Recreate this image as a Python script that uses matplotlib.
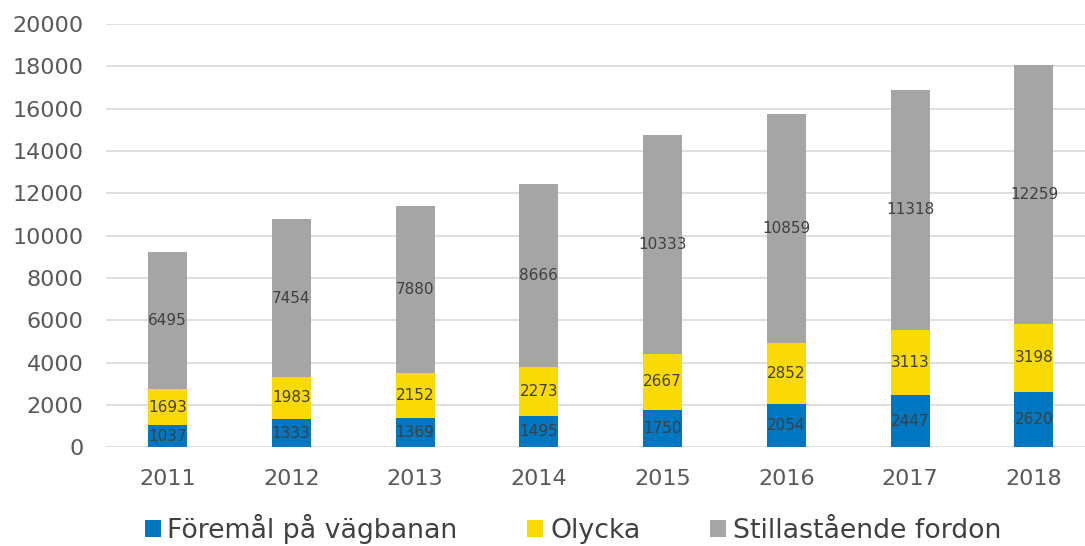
import matplotlib
import matplotlib.pyplot as plt
from matplotlib import font_manager
import numpy as np
import os

# make sure the bundled DejaVu Sans is used (closest to Verdana in the original)
ttf_dir = os.path.join(matplotlib.get_data_path(), "fonts", "ttf")
for f in ["DejaVuSans.ttf", "DejaVuSans-Bold.ttf"]:
    p = os.path.join(ttf_dir, f)
    if os.path.exists(p):
        font_manager.fontManager.addfont(p)
plt.rcParams['font.family'] = ['DejaVu Sans']

years = ["2011", "2012", "2013", "2014", "2015", "2016", "2017", "2018"]
foremal = [1037, 1333, 1369, 1495, 1750, 2054, 2447, 2620]
olycka = [1693, 1983, 2152, 2273, 2667, 2852, 3113, 3198]
stilla = [6495, 7454, 7880, 8666, 10333, 10859, 11318, 12259]

series = [
    ("Föremål på vägbanan", foremal, "#0077C0"),
    ("Olycka", olycka, "#F9DA05"),
    ("Stillastående fordon", stilla, "#A5A5A5"),
]

fig = plt.figure(figsize=(10.85, 5.46), dpi=100)
# the plot area runs a bit past the right edge in the original
ax = fig.add_axes([0.0973, 0.181, 0.9127, 0.775])

x = np.arange(len(years))
bottom = np.zeros(len(years))
for name, vals, color in series:
    vals = np.array(vals)
    bars = ax.bar(x, vals, bottom=bottom, width=0.315, color=color, label=name, zorder=3)
    ax.bar_label(bars, labels=[str(v) for v in vals], label_type="center",
                 fontsize=11, color="#404040", zorder=4)
    bottom += vals

ax.set_xlim(-0.5, len(years) - 0.5)
ax.set_ylim(0, 20000)
ax.set_yticks(range(0, 20001, 2000))
ax.set_xticks(x)
ax.set_xticklabels(years)
ax.grid(axis="y", color="#D9D9D9", linewidth=1.2, zorder=0)
for s in ax.spines.values():
    s.set_visible(False)
ax.tick_params(axis="both", length=0, labelsize=16, labelcolor="#595959")
ax.tick_params(axis="x", pad=16)
ax.tick_params(axis="y", pad=16)

fig.legend(loc="lower center", bbox_to_anchor=(0.528, -0.04), ncol=3, frameon=False,
           fontsize=19.3, handlelength=0.6, handleheight=0.6, handletextpad=0.25,
           columnspacing=2.6, labelcolor="#404040")

fig.savefig("out.png", dpi=100)
